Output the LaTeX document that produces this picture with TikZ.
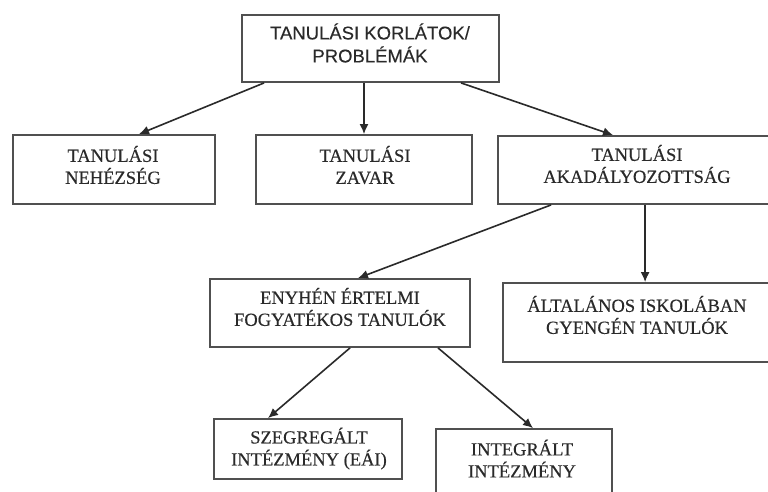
\documentclass[tikz,border=0pt]{standalone}
\usepackage{fontspec}
\setmainfont{Liberation Serif}[FakeBold=0.35]
\newfontfamily\arialf{Liberation Sans}[FakeBold=0.25]
\usetikzlibrary{arrows.meta}
\definecolor{boxline}{HTML}{505050}
\definecolor{ink}{HTML}{2A2A2A}
\begin{document}
\begin{tikzpicture}[x=1pt,y=-1pt,
  box/.style={draw=boxline, line width=1.8pt, rectangle, inner sep=0pt},
  txt/.style={text=ink, align=center, inner sep=0pt, font=\fontsize{18.5}{22}\selectfont},
  stxt/.style={text=ink, align=center, inner sep=0pt, font=\arialf\fontsize{18.5}{23}\selectfont},
  arr/.style={draw=ink, line width=1.6pt, -{Latex[length=10pt,width=9pt]}}]
\useasboundingbox (0,0) rectangle (768,491);
\clip (0,0) rectangle (768,491);
\fill[white] (0,0) rectangle (768,491);
% boxes
\node[box, minimum width=257pt, minimum height=67pt] (top) at (370.5,48.5) {};
\node[box, minimum width=202pt, minimum height=69pt] (nehez) at (114,169.5) {};
\node[box, minimum width=216pt, minimum height=69pt] (zavar) at (364,169.5) {};
\node[box, minimum width=278pt, minimum height=68pt] (akad) at (637,170) {};
\node[box, minimum width=260pt, minimum height=68pt] (enyh) at (340,313) {};
\node[box, minimum width=269pt, minimum height=79pt] (alt) at (637.5,322.5) {};
\node[box, minimum width=188pt, minimum height=60pt] (szeg) at (308,449) {};
\node[box, minimum width=176pt, minimum height=76pt] (integ) at (524,467) {};
% texts
\node[stxt] (topt) at (370,43) {TANULÁSI KORLÁTOK/\\PROBLÉMÁK};
\node[txt] (nezhezt) at (113,165) {TANULÁSI\\NEHÉZSÉG};
\node[txt] (zavart) at (365,165) {TANULÁSI\\ZAVAR};
\node[txt] (akadt) at (637,164) {TANULÁSI\\AKADÁLYOZOTTSÁG};
\node[txt] (enyht) at (340,307) {ENYHÉN ÉRTELMI\\FOGYATÉKOS TANULÓK};
\node[txt] (altt) at (637,315) {ÁLTALÁNOS ISKOLÁBAN\\GYENGÉN TANULÓK};
\node[txt] (szegt) at (309,448.5) {SZEGREGÁLT\\INTÉZMÉNY (EÁI)};
\node[txt] (integt) at (522,458.5) {INTEGRÁLT\\INTÉZMÉNY};
% connectors
\draw[arr] ([xshift=23pt]top.south west) -- ([xshift=25pt]nehez.north);
\draw[arr] ([xshift=-6.5pt]top.south) -- (zavar.north);
\draw[arr] ([xshift=90.5pt]top.south) -- ([xshift=-24pt]akad.north);
\draw[arr] ([xshift=54pt]akad.south west) -- ([xshift=18pt]enyh.north);
\draw[arr] ([xshift=148pt]akad.south west) -- ([xshift=143pt]alt.north west);
\draw[arr] ([xshift=10pt]enyh.south) -- ([xshift=-40pt]szeg.north);
\draw[arr] ([xshift=98pt]enyh.south) -- ([xshift=9pt]integ.north);
\end{tikzpicture}
\end{document}
